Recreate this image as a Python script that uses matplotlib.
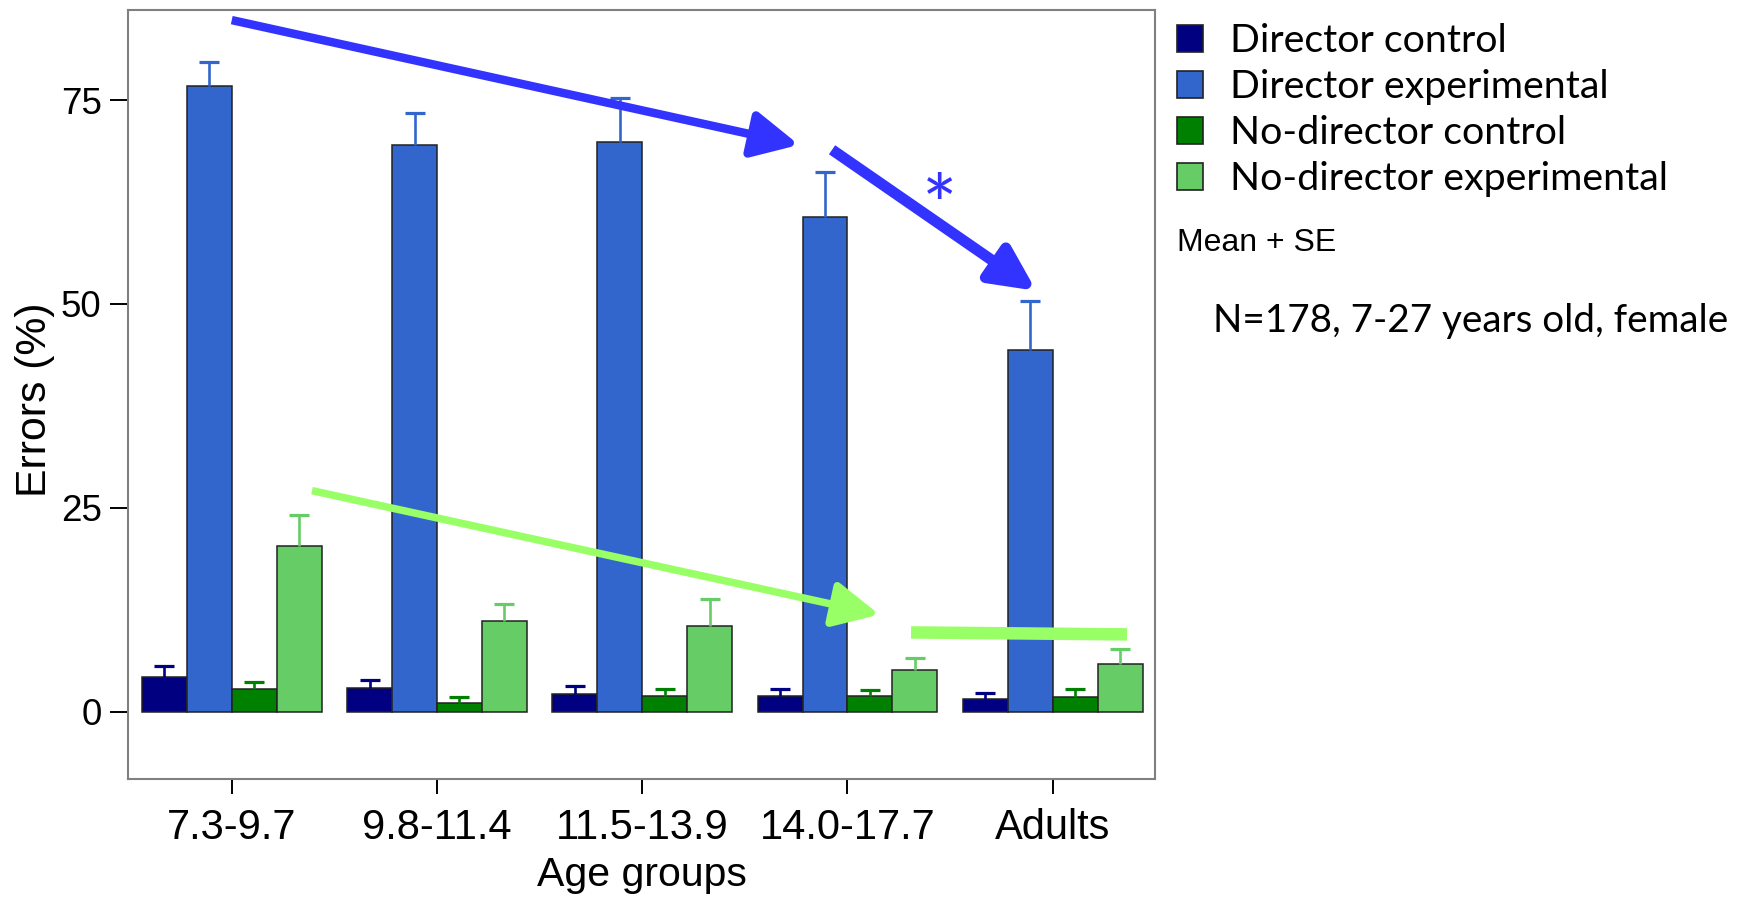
import numpy as np
import matplotlib.pyplot as plt
from matplotlib.patches import Rectangle

plt.rcParams['font.family'] = ['Liberation Sans', 'DejaVu Sans']

groups = ['7.3-9.7', '9.8-11.4', '11.5-13.9', '14.0-17.7', 'Adults']
series = ['Director control', 'Director experimental',
          'No-director control', 'No-director experimental']
colors = ['#000080', '#3366CC', '#008000', '#66CC66']

# mean errors (%) and standard errors per age group
director_control = [4.2, 2.9, 2.2, 1.9, 1.6]
director_control_se = [1.4, 0.95, 1.0, 0.9, 0.7]
director_exp = [76.7, 69.5, 69.8, 60.7, 44.4]
director_exp_se = [3.0, 3.9, 5.4, 5.5, 5.9]
nodirector_control = [2.75, 1.0, 1.9, 1.9, 1.75]
nodirector_control_se = [0.85, 0.8, 0.85, 0.75, 1.05]
nodirector_exp = [20.3, 11.1, 10.5, 5.1, 5.9]
nodirector_exp_se = [3.8, 2.1, 3.3, 1.45, 1.8]

means = [director_control, director_exp, nodirector_control, nodirector_exp]
ses = [director_control_se, director_exp_se, nodirector_control_se, nodirector_exp_se]

# hand-drawn trend arrows (data coords)
blue_arrow_1 = [(0.0, 84.8), (2.764, 69.5)]
blue_arrow_2 = [(2.925, 68.9), (3.92, 51.6)]
star_pos = (3.451, 61.3)
green_arrow = [(0.391, 27.1), (3.156, 11.9)]
green_flat = [(3.310, 9.71), (4.362, 9.47)]

W, H = 1746, 899
fig = plt.figure(figsize=(W / 100, H / 100), dpi=100)
ax = fig.add_axes([127.7 / W, 1 - 779.3 / H, (1155.3 - 127.7) / W, (779.3 - 9.5) / H])

x = np.arange(len(groups))
bw = 0.219
cap = 0.0975
for i, (m, s, c) in enumerate(zip(means, ses, colors)):
    xs = x + (i - 1.5) * bw
    ax.bar(xs, m, width=bw, color=c, edgecolor='#222222', linewidth=1.1, zorder=2)
    tops = np.array(m) + np.array(s)
    ax.vlines(xs, m, tops, color=c, linewidth=1.9, zorder=3)
    ax.hlines(tops, xs - cap / 2, xs + cap / 2, color=c, linewidth=2.3, zorder=3)

ax.set_xlim(-0.507, 4.5)
ax.set_ylim(-8.3, 86.1)
ax.set_yticks([0, 25, 50, 75])
ax.set_xticks(x)
ax.set_xticklabels(groups)
ax.tick_params(axis='y', length=13, width=1.4, pad=5.8, labelsize=26.5)
ax.tick_params(axis='x', length=10.8, width=1.4, pad=10, labelsize=30)
for sp in ax.spines.values():
    sp.set_color('#808080')
    sp.set_linewidth(1.5)

ax.set_ylabel('Errors (%)', fontsize=30.8)
ax.yaxis.set_label_coords(-0.0707, 0.4935)
ax.set_xlabel('Age groups', fontsize=29.5)
ax.xaxis.set_label_coords(0.5, -0.100)

# trend arrows
def arrow(seg, color, lw, hl, hw):
    ax.annotate('', xy=seg[1], xytext=seg[0],
                arrowprops=dict(arrowstyle=f'-|>,head_length={hl},head_width={hw}',
                                color=color, lw=lw, shrinkA=0, shrinkB=0,
                                mutation_scale=1, capstyle='butt'),
                zorder=5)

arrow(blue_arrow_1, '#3333FF', 6.1, 28, 14)
arrow(blue_arrow_2, '#3333FF', 7.9, 26.6, 13)
arrow(green_arrow, '#99FF66', 5.4, 28, 13.8)
ax.plot([p[0] for p in green_flat], [p[1] for p in green_flat],
        color='#99FF66', lw=9, solid_capstyle='butt', zorder=5)
ax.text(star_pos[0], star_pos[1], '*', color='#3333FF', fontsize=60,
        family='Lato', ha='center', va='center', zorder=5)

# legend, drawn by hand on the figure
def fx(px):
    return px / W

def fy(py):
    return 1 - py / H

for i, (name, c) in enumerate(zip(series, colors)):
    base = 52.3 + 46.0 * i
    fig.add_artist(Rectangle((fx(1176.5), fy(base)), 26.5 / W, 27 / H,
                             transform=fig.transFigure, facecolor=c,
                             edgecolor='#222222', linewidth=1.2))
    fig.text(fx(1229.8), fy(base), name, family='Lato', fontsize=28.4,
             ha='left', va='baseline')

fig.text(fx(1177), fy(250.7), 'Mean + SE', fontsize=23, ha='left', va='baseline')
fig.text(fx(1213), fy(331.7), 'N=178, 7-27 years old, female', family='Lato',
         fontsize=27.8, ha='left', va='baseline')

fig.savefig('out.png', dpi=100)
